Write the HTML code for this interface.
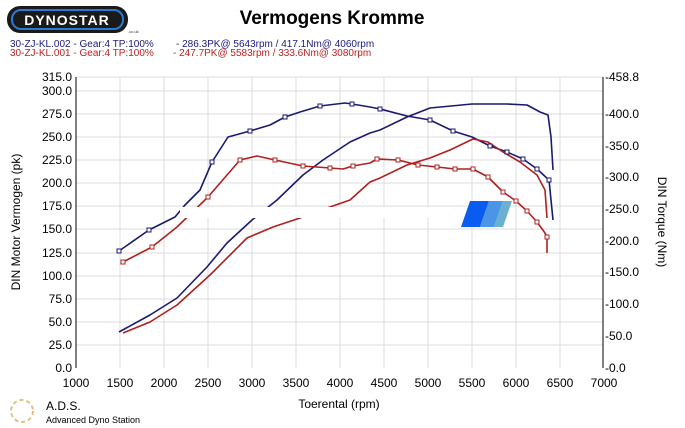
<!DOCTYPE html>
<html><head><meta charset="utf-8"><style>
body{margin:0;background:#fff;}
svg{display:block;font-family:"Liberation Sans",sans-serif;}
</style></head><body>
<svg width="685" height="428" viewBox="0 0 685 428" xmlns="http://www.w3.org/2000/svg">
<rect width="685" height="428" fill="#fff"/>
<rect x="7" y="6" width="121" height="27" rx="13" fill="#1a1a1a"/>
<rect x="12" y="10" width="111" height="19" rx="9" fill="none" stroke="#2a7bd0" stroke-width="2"/>
<text x="67" y="25" font-size="14" font-weight="bold" fill="#fff" text-anchor="middle" letter-spacing="1">DYNOSTAR</text>
<text x="128" y="33" font-size="4" fill="#333">.co.uk</text>
<text x="332" y="24" font-size="19" font-weight="bold" fill="#000" text-anchor="middle">Vermogens Kromme</text>
<text x="10" y="47" font-size="10" fill="#1a1a80">30-ZJ-KL.002 - Gear:4 TP:100%</text>
<text x="176" y="47" font-size="10" fill="#1a1a80">- 286.3PK@ 5643rpm / 417.1Nm@ 4060rpm</text>
<text x="10" y="56" font-size="10" fill="#c02020">30-ZJ-KL.001 - Gear:4 TP:100%</text>
<text x="173" y="56" font-size="10" fill="#c02020">- 247.7PK@ 5583rpm / 333.6Nm@ 3080rpm</text>
<g stroke="#dcdcdc" stroke-width="1">
<line x1="76" y1="91" x2="603" y2="91"/><line x1="76" y1="114" x2="603" y2="114"/><line x1="76" y1="137" x2="603" y2="137"/><line x1="76" y1="160" x2="603" y2="160"/><line x1="76" y1="183" x2="603" y2="183"/><line x1="76" y1="206" x2="603" y2="206"/><line x1="76" y1="229" x2="603" y2="229"/><line x1="76" y1="253" x2="603" y2="253"/><line x1="76" y1="276" x2="603" y2="276"/><line x1="76" y1="299" x2="603" y2="299"/><line x1="76" y1="322" x2="603" y2="322"/><line x1="76" y1="345" x2="603" y2="345"/><line x1="76" y1="77" x2="603" y2="77"/>
<line x1="120" y1="77" x2="120" y2="368"/><line x1="164" y1="77" x2="164" y2="368"/><line x1="208" y1="77" x2="208" y2="368"/><line x1="252" y1="77" x2="252" y2="368"/><line x1="296" y1="77" x2="296" y2="368"/><line x1="340" y1="77" x2="340" y2="368"/><line x1="384" y1="77" x2="384" y2="368"/><line x1="428" y1="77" x2="428" y2="368"/><line x1="472" y1="77" x2="472" y2="368"/><line x1="516" y1="77" x2="516" y2="368"/><line x1="560" y1="77" x2="560" y2="368"/>
</g>
<g stroke="#000" stroke-width="1">
<line x1="76" y1="77" x2="76" y2="368"/><line x1="603" y1="77" x2="603" y2="368"/>
</g>
<g font-size="12" fill="#000" text-anchor="end">
<text x="72" y="81">315.0</text><text x="72" y="95">300.0</text><text x="72" y="118">275.0</text><text x="72" y="141">250.0</text><text x="72" y="164">225.0</text><text x="72" y="187">200.0</text><text x="72" y="210">175.0</text><text x="72" y="233">150.0</text><text x="72" y="257">125.0</text><text x="72" y="280">100.0</text><text x="72" y="303">75.0</text><text x="72" y="326">50.0</text><text x="72" y="349">25.0</text><text x="72" y="372">0.0</text>
</g>
<g font-size="12" fill="#000">
<text x="605" y="81">-458.8</text><text x="605" y="118">-400.0</text><text x="605" y="150">-350.0</text><text x="605" y="181">-300.0</text><text x="605" y="213">-250.0</text><text x="605" y="245">-200.0</text><text x="605" y="276">-150.0</text><text x="605" y="308">-100.0</text><text x="605" y="340">-50.0</text><text x="605" y="372">-0.0</text>
</g>
<g font-size="12" fill="#000" text-anchor="middle">
<text x="76" y="387">1000</text><text x="120" y="387">1500</text><text x="164" y="387">2000</text><text x="208" y="387">2500</text><text x="252" y="387">3000</text><text x="296" y="387">3500</text><text x="340" y="387">4000</text><text x="384" y="387">4500</text><text x="428" y="387">5000</text><text x="472" y="387">5500</text><text x="516" y="387">6000</text><text x="560" y="387">6500</text><text x="604" y="387">7000</text>
<text x="339" y="408">Toerental (rpm)</text>
</g>
<text transform="translate(20,222) rotate(-90)" font-size="12" text-anchor="middle">DIN Motor Vermogen (pk)</text>
<text transform="translate(658,222) rotate(90)" font-size="12" text-anchor="middle">DIN Torque (Nm)</text>
<g fill="none" stroke-width="1.6" stroke-linejoin="round">
<polyline stroke="#1a1a70" points="119,251 149,230 175,217 185,205 200,190 212,162 228,137 250,131 270,125 285,117 300,112 320,106 345,103 352,104 370,107 380,109 407,116 430,120 453,131 472,137 490,146 507,152 523,159 537,169 549,180 553,220"/>
<polyline stroke="#1a1a70" points="119,332 150,315 177,298 207,267 227,243 252,220 277,200 303,175 323,160 350,142 370,133 380,130 407,117 430,108 472,104 507,104 527,105 540,112 548,115 551,137 553,170"/>
<polyline stroke="#b02020" points="123,262 152,247 177,227 208,197 240,160 257,156 275,160 303,166 330,168 343,169 353,166 370,163 377,159 398,160 418,165 437,167 455,169 473,169 488,177 503,192 516,201 527,211 537,222 545,233 547,237 547,253"/>
<polyline stroke="#b02020" points="123,333 150,322 177,305 210,275 247,238 273,227 303,217 330,207 350,200 370,182 380,178 407,165 430,158 450,150 473,139 488,142 503,152 520,162 537,175 545,190 547,218"/>
</g>
<g fill="#fff" stroke="#1a1a70" stroke-width="1">
<rect x="117" y="249" width="4" height="4"/><rect x="147" y="228" width="4" height="4"/><rect x="210" y="160" width="4" height="4"/><rect x="248" y="129" width="4" height="4"/><rect x="283" y="115" width="4" height="4"/><rect x="318" y="104" width="4" height="4"/><rect x="350" y="102" width="4" height="4"/><rect x="378" y="107" width="4" height="4"/><rect x="428" y="118" width="4" height="4"/><rect x="451" y="129" width="4" height="4"/><rect x="488" y="144" width="4" height="4"/><rect x="505" y="150" width="4" height="4"/><rect x="521" y="157" width="4" height="4"/><rect x="535" y="167" width="4" height="4"/><rect x="547" y="178" width="4" height="4"/>
</g>
<g fill="#fff" stroke="#b02020" stroke-width="1">
<rect x="121" y="260" width="4" height="4"/><rect x="150" y="245" width="4" height="4"/><rect x="206" y="195" width="4" height="4"/><rect x="238" y="158" width="4" height="4"/><rect x="273" y="158" width="4" height="4"/><rect x="301" y="164" width="4" height="4"/><rect x="328" y="166" width="4" height="4"/><rect x="351" y="164" width="4" height="4"/><rect x="375" y="157" width="4" height="4"/><rect x="396" y="158" width="4" height="4"/><rect x="416" y="163" width="4" height="4"/><rect x="435" y="165" width="4" height="4"/><rect x="453" y="167" width="4" height="4"/><rect x="471" y="167" width="4" height="4"/><rect x="486" y="175" width="4" height="4"/><rect x="501" y="190" width="4" height="4"/><rect x="514" y="199" width="4" height="4"/><rect x="525" y="209" width="4" height="4"/><rect x="535" y="220" width="4" height="4"/><rect x="545" y="235" width="4" height="4"/>
</g>
<rect x="180" y="207" width="255" height="11" fill="#fff"/>
<polygon points="470,201 489,201 480,227 461,227" fill="#0a5cf0"/>
<polygon points="489,201 503,201 494,227 480,227" fill="#4a95e8"/>
<polygon points="503,201 512,201 503,227 494,227" fill="#6ab0d0"/>
<circle cx="22" cy="411" r="11" fill="none" stroke="#e0c080" stroke-width="2" stroke-dasharray="4 3"/>
<text x="46" y="410" font-size="12" fill="#000">A.D.S.</text>
<text x="46" y="423" font-size="9" fill="#000">Advanced Dyno Station</text>
</svg>
</body></html>
